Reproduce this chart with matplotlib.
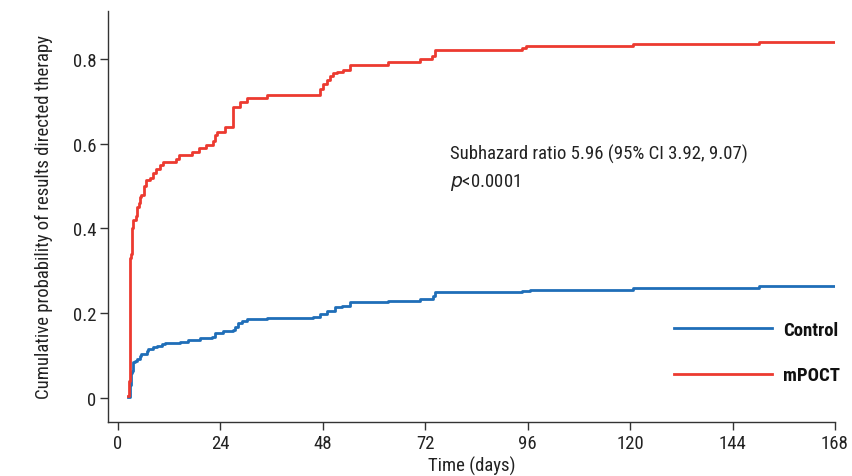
import matplotlib
matplotlib.use("Agg")
import matplotlib.pyplot as plt
from matplotlib import font_manager as fm

# Data (days, cumulative probability)
mpoct_days = [2.4, 2.5, 2.7, 2.9, 3.1, 3.3, 3.6, 4.1, 4.5, 4.8, 5.2, 5.5, 6.0, 6.5, 7.5,
              8.2, 9.0, 9.8, 10.6, 13.5, 14.3, 17.3, 19.0, 20.5, 22.2, 22.8, 23.3, 25.0,
              26.9, 28.6, 30.2, 34.8, 46.2, 47.3, 48.0, 48.9, 49.7, 50.4, 51.3, 52.8,
              54.4, 63.3, 70.8, 73.5, 74.3, 94.6, 95.5, 120.7, 150.3, 168.0]
mpoct_prob = [0.005, 0.04, 0.15, 0.33, 0.34, 0.40, 0.42, 0.43, 0.45, 0.46, 0.475, 0.48,
              0.50, 0.515, 0.52, 0.53, 0.54, 0.55, 0.556, 0.565, 0.573, 0.58, 0.59, 0.598,
              0.607, 0.62, 0.628, 0.64, 0.686, 0.698, 0.708, 0.714, 0.716, 0.73, 0.74,
              0.75, 0.76, 0.766, 0.77, 0.775, 0.786, 0.793, 0.80, 0.807, 0.82, 0.825,
              0.83, 0.835, 0.84, 0.84]

control_days = [2.4, 2.7, 3.0, 3.2, 3.6, 4.0, 4.4, 5.2, 5.5, 6.7, 7.1, 8.3, 9.1, 10.2,
                11.0, 14.5, 16.5, 17.6, 19.2, 22.0, 22.7, 24.7, 27.0, 27.4, 28.0, 29.0,
                30.2, 34.8, 45.8, 47.3, 48.9, 50.8, 52.4, 54.4, 63.3, 70.8, 73.9, 74.3,
                94.6, 96.5, 120.7, 150.3, 168.0]
control_prob = [0.002, 0.03, 0.06, 0.064, 0.084, 0.088, 0.092, 0.10, 0.104, 0.112, 0.116,
                0.12, 0.123, 0.127, 0.13, 0.133, 0.136, 0.138, 0.141, 0.143, 0.153, 0.159,
                0.161, 0.168, 0.176, 0.182, 0.186, 0.189, 0.19, 0.198, 0.206, 0.214,
                0.218, 0.226, 0.23, 0.234, 0.241, 0.249, 0.252, 0.255, 0.26, 0.265, 0.265]

x_ticks = [0, 24, 48, 72, 96, 120, 144, 168]
y_ticks = [0, 0.2, 0.4, 0.6, 0.8]
y_ticklabels = ["0", "0.2", "0.4", "0.6", "0.8"]

RED = "#EC3A30"
BLUE = "#1F6EB8"

# pick a condensed font if one is available
names = {f.name for f in fm.fontManager.ttflist}
stretch = "normal"
if "Liberation Sans Narrow" in names:
    FAM, FS = "Liberation Sans Narrow", 13.5
elif "Roboto Condensed" in names:
    FAM, FS = "Roboto Condensed", 13.5
else:
    FAM, FS = "Roboto", 12
plt.rcParams["font.family"] = [FAM, "DejaVu Sans"]

fig = plt.figure(figsize=(8.52, 4.77), dpi=100)
ax = fig.add_axes([0.1268, 0.1132, 0.8532, 0.8616])

ax.plot(control_days, control_prob, drawstyle="steps-post", color=BLUE, lw=2.0,
        label="Control")
ax.plot(mpoct_days, mpoct_prob, drawstyle="steps-post", color=RED, lw=2.0,
        label="mPOCT")

ax.set_xlim(-2.34, 168)
ax.set_ylim(-0.0566, 0.913)
ax.set_xticks(x_ticks)
ax.set_xticklabels([str(t) for t in x_ticks])
ax.set_yticks(y_ticks)
ax.set_yticklabels(y_ticklabels)

for s in ["top", "right"]:
    ax.spines[s].set_visible(False)
for s in ["left", "bottom"]:
    ax.spines[s].set_color("#333333")
    ax.spines[s].set_linewidth(1.0)

ax.tick_params(axis="both", direction="out", length=6, width=1.0, color="#333333",
               labelsize=FS, labelcolor="#222222", pad=2.5)

ax.set_xlabel("Time (days)", fontsize=FS, color="#222222", labelpad=3)
ax.set_ylabel("Cumulative probability of results directed therapy", fontsize=FS,
              color="#222222", labelpad=14)

ax.text(77.8, 0.578, "Subhazard ratio 5.96 (95% CI 3.92, 9.07)", fontsize=FS,
        color="#222222", va="center", ha="left")
ax.text(77.8, 0.511, r"$\it{p}$<0.0001", fontsize=FS, color="#222222", va="center",
        ha="left")

leg = ax.legend(loc="center left", bbox_to_anchor=(0.7786, 0.169), frameon=False,
                fontsize=FS, handlelength=5.2, labelspacing=1.45, handletextpad=0.62,
                borderpad=0, borderaxespad=0)
for t in leg.get_texts():
    t.set_fontweight("semibold")
    t.set_color("#111111")

fig.savefig("out.png", dpi=100)
